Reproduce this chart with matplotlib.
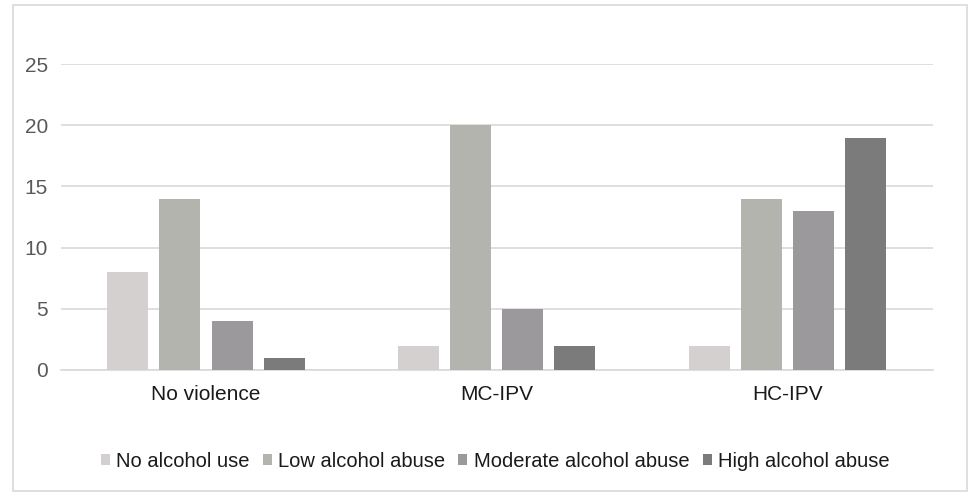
import numpy as np
import matplotlib.pyplot as plt
from matplotlib.patches import Rectangle

plt.rcParams['font.family'] = ['Liberation Sans', 'DejaVu Sans']

# Counts per violence group and alcohol level
groups = ['No violence', 'MC-IPV', 'HC-IPV']
series = ['No alcohol use', 'Low alcohol abuse', 'Moderate alcohol abuse', 'High alcohol abuse']
no_alcohol = [8, 2, 2]
low_alcohol = [14, 20, 14]
moderate_alcohol = [4, 5, 13]
high_alcohol = [1, 2, 19]
colors = ['#d3d0cf', '#b4b4af', '#9c999d', '#7b7b7b']

values = [no_alcohol, low_alcohol, moderate_alcohol, high_alcohol]

fig = plt.figure(figsize=(9.69, 4.93), dpi=100)
ax = fig.add_axes([0.0625, 0.2495, 0.9005, 0.6205])

x = np.arange(len(groups))
step = 0.179
width = 0.141
for i, (vals, name, c) in enumerate(zip(values, series, colors)):
    ax.bar(x + (i - 1.5) * step, vals, width, color=c, label=name, zorder=3)

ax.set_xlim(-0.5, 2.5)
ax.set_ylim(0, 25)
ax.set_yticks(range(0, 26, 5))
ax.set_xticks(x)
ax.set_xticklabels(groups)
ax.grid(axis='y', color='#d9d9d9', linewidth=1.2, zorder=0)
ax.tick_params(axis='both', length=0, labelsize=15)
ax.tick_params(axis='x', pad=11, labelcolor='#1a1a1a')
ax.tick_params(axis='y', pad=9, labelcolor='#595959')
for s in ['top', 'right', 'left']:
    ax.spines[s].set_visible(False)
ax.spines['bottom'].set_color('#d9d9d9')
ax.spines['bottom'].set_linewidth(1.2)

fig.legend(loc='center', bbox_to_anchor=(0.511, 0.064), ncol=4, frameon=False,
           fontsize=14.5, handlelength=0.45, handleheight=0.45, handletextpad=0.32,
           columnspacing=0.65, labelcolor='#1a1a1a')

# light frame around the whole chart
fig.patches.append(Rectangle((0.0135, 0.005), 0.984, 0.985, transform=fig.transFigure,
                             fill=False, edgecolor='#d9d9d9', linewidth=1.2))

fig.savefig('out.png', dpi=100)
